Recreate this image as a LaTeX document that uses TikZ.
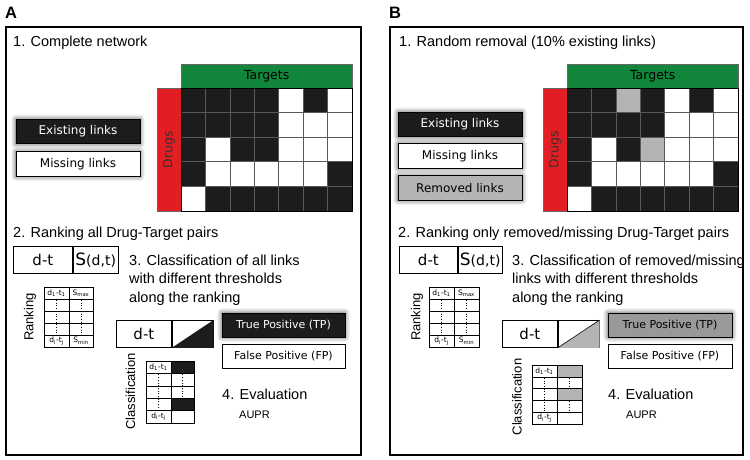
\documentclass[tikz,border=0pt]{standalone}
\usepackage{fontspec}
\setmainfont{Liberation Sans}
\newfontfamily\boxfont{DejaVu Sans}
\usetikzlibrary{shadows.blur}
\definecolor{tgtgreen}{RGB}{18,134,58}
\definecolor{drugred}{RGB}{226,30,36}
\definecolor{c0}{RGB}{255,255,255}
\definecolor{c1}{RGB}{28,28,28}
\definecolor{c2}{RGB}{180,180,180}
\tikzstyle{panel}=[draw=black,line width=1.2pt]
\tikzstyle{letter}=[anchor=base west,inner sep=0pt,font=\bfseries\fontsize{16.5}{18}\selectfont]
\tikzstyle{title}=[anchor=base west,inner sep=0pt,font=\fontsize{14.5}{17}\selectfont]
\tikzstyle{aupr}=[anchor=base west,inner sep=0pt,font=\fontsize{11}{13}\selectfont]
\tikzstyle{legend}=[draw=black,line width=0.8pt,minimum width=124pt,minimum height=24.5pt,inner sep=0pt,font=\boxfont\fontsize{12}{14}\selectfont]
\tikzstyle{glow}=[blur shadow={shadow xshift=0pt,shadow yshift=0pt,shadow blur radius=5pt,shadow opacity=75}]
\tikzstyle{cell}=[draw=black!65,line width=0.7pt]
\tikzstyle{tgtbar}=[fill=tgtgreen,draw=black!60,line width=0.5pt,minimum width=171pt,minimum height=24pt,inner sep=0pt,anchor=north west,font=\boxfont\fontsize{12.5}{14}\selectfont]
\tikzstyle{drugbar}=[fill=drugred,draw=black!60,line width=0.5pt,rotate=90,minimum width=123pt,minimum height=24pt,inner sep=0pt,font=\boxfont\fontsize{12.5}{14}\selectfont,text=black!80]
\tikzstyle{pairbox}=[draw=black,line width=0.8pt,minimum height=27pt,inner sep=0pt,anchor=north west,font=\boxfont\fontsize{15}{16}\selectfont]
\tikzstyle{tab}=[draw=black,line width=0.6pt]
\tikzstyle{tiny}=[inner sep=0pt,font=\boxfont\fontsize{7.5}{8}\selectfont]
\tikzstyle{dots}=[dotted,line width=0.7pt]
\tikzstyle{vlabel}=[rotate=90,inner sep=0pt,font=\fontsize{13}{15}\selectfont]

\begin{document}
\begin{tikzpicture}[x=1pt,y=-1pt]
\useasboundingbox (0,0) rectangle (750,460);

% ---------------- panel A
\node[letter] (letA) at (5,19) {A};
\draw[panel] (6,27) rectangle (361,455);
\node[title] (t1A) at (13,47) {1. Complete network};

\node[tgtbar] (tgtA) at (181,64) {Targets};
\node[drugbar] (drugA) at (169,149.5) {Drugs};
\foreach \rowpat [count=\r] in {{1,1,1,1,0,1,0},{1,1,1,1,0,0,0},{1,0,1,1,0,0,0},{1,0,0,0,0,0,1},{0,1,1,1,1,1,1}}
  \foreach \v [count=\c] in \rowpat
    \draw[cell,fill=c\v] ({181+(\c-1)*24.43},{88+(\r-1)*24.6}) rectangle +(24.43,24.6);
\draw[line width=0.8pt] (181,88) rectangle (352,211);

\node[legend,glow,fill=c1,text=white] (existA) at (78,131.5) {Existing links};
\node[legend,glow,fill=white] (missA) at (78,164) {Missing links};

\node[title] (t2A) at (13,237.5) {2. Ranking all Drug-Target pairs};
\node[pairbox,minimum width=59pt] (dtA) at (13,246) {d-t};
\node[pairbox,minimum width=45pt] (sA) at (dtA.north east) {{\fontsize{17}{18}\selectfont S}{\fontsize{14}{15}\selectfont(d,t)}};

\node[title] (t3aA) at (129,265) {3. Classification of all links};
\node[title] (t3bA) at (129,283.5) {with different thresholds};
\node[title] (t3cA) at (129,302) {along the ranking};

% ranking table
\draw[tab] (44,287) rectangle (93,347);
\draw[tab] (69,287) -- (69,347);
\foreach \y in {299,311,323,335} \draw[tab] (44,\y) -- (93,\y);
\draw[dots] (56.5,300) -- (56.5,334);
\draw[dots] (81,300) -- (81,334);
\node[tiny] (rk1A) at (56.5,293) {d\textsubscript{1}-t\textsubscript{1}};
\node[tiny] (rs1A) at (81,293) {S\textsubscript{max}};
\node[tiny] (rk5A) at (56.5,341) {d\textsubscript{i}-t\textsubscript{j}};
\node[tiny] (rs5A) at (81,341) {S\textsubscript{min}};
\node[vlabel] (rankA) at (30,317) {Ranking};

% classification pair
\node[pairbox,minimum width=55pt] (cdtA) at (116,320) {d-t};
\node[pairbox,minimum width=41pt] (cclA) at (cdtA.north east) {};
\fill[c1] (cclA.south west) -- (cclA.north east) -- (cclA.south east) -- cycle;
\node[legend,glow,fill=c1,text=white,minimum width=123pt,minimum height=24pt,font=\boxfont\fontsize{11}{13}\selectfont] (tpA) at (283.5,325) {True Positive (TP)};
\node[legend,fill=white,minimum width=123pt,minimum height=24pt,font=\boxfont\fontsize{11}{13}\selectfont] (fpA) at (283.5,356) {False Positive (FP)};

% classification table
\fill[c1] (171,361) rectangle (194,373.4);
\fill[c1] (171,398.2) rectangle (194,410.6);
\draw[tab] (146,361) rectangle (194,423);
\draw[tab] (171,361) -- (171,423);
\foreach \y in {373.4,385.8,398.2,410.6} \draw[tab] (146,\y) -- (194,\y);
\draw[dots] (158.5,374.4) -- (158.5,409.6);
\draw[dots] (182.5,374.4) -- (182.5,397.2);
\node[tiny] (ck1A) at (158.5,367.2) {d\textsubscript{1}-t\textsubscript{1}};
\node[tiny] (ck5A) at (158.5,416.8) {d\textsubscript{i}-t\textsubscript{j}};
\node[vlabel] (classA) at (130.5,391.5) {Classification};

\node[title] (t4A) at (222,399) {4. Evaluation};
\node[aupr] (auprA) at (239,418) {AUPR};

% ---------------- panel B
\node[letter] (letB) at (389,19) {B};
\draw[panel] (390,27) rectangle (743,455);
\node[title] (t1B) at (399,47) {1. Random removal (10\% existing links)};

\node[tgtbar] (tgtB) at (567,64) {Targets};
\node[drugbar] (drugB) at (555,149.5) {Drugs};
\foreach \rowpat [count=\r] in {{1,1,2,1,0,1,0},{1,1,1,1,0,0,0},{1,0,1,2,0,0,0},{1,0,0,0,0,0,1},{0,1,1,1,1,1,1}}
  \foreach \v [count=\c] in \rowpat
    \draw[cell,fill=c\v] ({567+(\c-1)*24.43},{88+(\r-1)*24.6}) rectangle +(24.43,24.6);
\draw[line width=0.8pt] (567,88) rectangle (738,211);

\node[legend,glow,fill=c1,text=white] (existB) at (460,124.5) {Existing links};
\node[legend,glow,fill=white] (missB) at (460,156) {Missing links};
\node[legend,glow,fill=c2] (remB) at (460,188) {Removed links};

\node[title] (t2B) at (398,237.5) {2. Ranking only removed/missing Drug-Target pairs};
\node[pairbox,minimum width=58pt] (dtB) at (399,246) {d-t};
\node[pairbox,minimum width=44pt] (sB) at (dtB.north east) {{\fontsize{17}{18}\selectfont S}{\fontsize{14}{15}\selectfont(d,t)}};

\node[title] (t3aB) at (512,265) {3. Classification of removed/missing};
\node[title] (t3bB) at (512,283.5) {links with different thresholds};
\node[title] (t3cB) at (512,302) {along the ranking};

% ranking table
\draw[tab] (429,287) rectangle (479,347);
\draw[tab] (454,287) -- (454,347);
\foreach \y in {299,311,323,335} \draw[tab] (429,\y) -- (479,\y);
\draw[dots] (441.5,300) -- (441.5,334);
\draw[dots] (466.5,300) -- (466.5,334);
\node[tiny] (rk1B) at (441.5,293) {d\textsubscript{1}-t\textsubscript{1}};
\node[tiny] (rs1B) at (466.5,293) {S\textsubscript{max}};
\node[tiny] (rk5B) at (441.5,341) {d\textsubscript{i}-t\textsubscript{j}};
\node[tiny] (rs5B) at (466.5,341) {S\textsubscript{min}};
\node[vlabel] (rankB) at (417,317) {Ranking};

% classification pair
\node[pairbox,minimum width=55pt] (cdtB) at (502,320) {d-t};
\node[pairbox,minimum width=41pt] (cclB) at (cdtB.north east) {};
\fill[c2] (cclB.south west) -- (cclB.north east) -- (cclB.south east) -- cycle;
\draw[line width=0.6pt] (cclB.south west) -- (cclB.north east);
\node[legend,glow,fill=c2!85!black,minimum width=124pt,minimum height=24pt,font=\boxfont\fontsize{11}{13}\selectfont] (tpB) at (670,325) {True Positive (TP)};
\node[legend,fill=white,minimum width=124pt,minimum height=24pt,font=\boxfont\fontsize{11}{13}\selectfont] (fpB) at (670,356) {False Positive (FP)};

% classification table
\fill[c2] (557,365) rectangle (582,376.8);
\fill[c2] (557,388.6) rectangle (582,400.4);
\draw[tab] (532,365) rectangle (582,424);
\draw[tab] (557,365) -- (557,424);
\foreach \y in {376.8,388.6,400.4,412.2} \draw[tab] (532,\y) -- (582,\y);
\draw[dots] (544.5,377.8) -- (544.5,411.2);
\draw[dots] (569.5,377.8) -- (569.5,387.6);
\draw[dots] (569.5,401.4) -- (569.5,411.2);
\node[tiny] (ck1B) at (544.5,370.9) {d\textsubscript{1}-t\textsubscript{1}};
\node[tiny] (ck5B) at (544.5,418.1) {d\textsubscript{i}-t\textsubscript{j}};
\node[vlabel] (classB) at (517,397) {Classification};

\node[title] (t4B) at (608,399) {4. Evaluation};
\node[aupr] (auprB) at (626,418) {AUPR};
\end{tikzpicture}
\end{document}
